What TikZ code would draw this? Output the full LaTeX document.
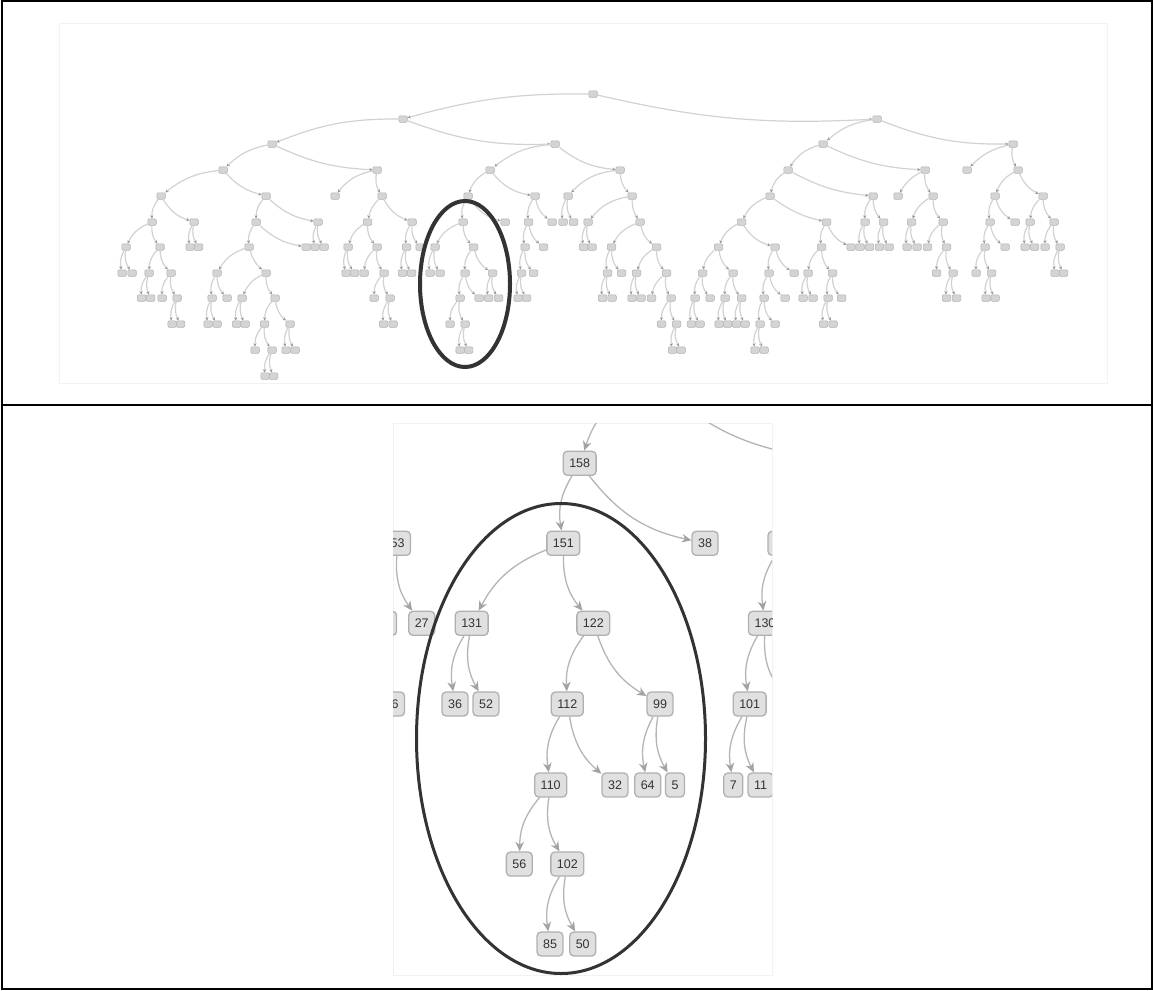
\documentclass[tikz,border=0pt]{standalone}
\usepackage{fontspec}
\setmainfont{Liberation Sans}
\usetikzlibrary{arrows.meta}
\begin{document}
\begin{tikzpicture}[x=1pt,y=1pt,
  tn/.style={rectangle, rounded corners=1.2pt, minimum width=8.5pt, minimum height=6.5pt,
    inner sep=0pt, fill=gray!34, draw=gray!60, line width=0.5pt},
  te/.style={draw=gray!35, line width=1.2pt,
    -{Stealth[length=3.2pt,width=3.2pt,color=gray!80]}},
  bn/.style={rectangle, rounded corners=4pt, minimum height=24pt, minimum width=18pt,
    inner xsep=6pt, inner ysep=0pt, fill=gray!24, draw=gray!62, line width=1.3pt,
    text=black!80, font=\fontsize{12.5}{14}\selectfont},
  be/.style={draw=gray!58, line width=1.3pt,
    -{Stealth[length=9.5pt,width=8.5pt,inset=3pt,color=gray!72]}},
  ring/.style={draw=black!80}]
\useasboundingbox (0,0) rectangle (1153,-990);
\fill[white] (0,0) rectangle (1153,-990);

% frames of the two panels
\draw[line width=2pt] (1.5,-1.5) rectangle (1151.5,-988.5);
\draw[line width=2pt] (1.5,-405) -- (1151.5,-405);
\draw[gray!10, line width=0.8pt] (59,-23) rectangle (1107,-383);
\draw[gray!10, line width=0.8pt] (393,-423) rectangle (772,-975);

% ---------- overview tree ----------
\foreach \n/\x/\y in {
  root/593/94, a/403/119, ap/877/119,
  b/272/144, p/555/144, u/823/144, v/1013/144,
  c/223/170, q/377/170, s/490/170, t/620/170, u1/788/170, u2/925/170, v1/967/170, v2/1018/170,
  d/161/196, g/266/196, q1/335/196, q2/382/196, n158/468/196, s2/535/196, t1/568/196, t2/632/196,
  u11/770/196, u12/873/196, u21/898/196, u22/933/196, v21/995/196, v22/1043/196,
  e/152/222, f/194/222, h/256/222, g2/318/222, q21/367.5/222, q22/412/222, n151/463/222, n38/505/222,
  s21/528.5/222, s22/552/222, t11/563/222, t12/573.5/222, t21/588/222, t22/640/222,
  u111/741.5/222, u112/826.5/222, u121/865/222, u122/883.5/222, u221/911.5/222, u222/943/222,
  v211/990/222, v212/1015/222, v221/1030/222, v222/1054/222,
  e1/126/247, e2/160/247, f1/190/247, f2/198.5/247, i/249/247, h2/306/247, g21/315/247, g22/324/247,
  q211/348/247, q212/377/247, q221/406.5/247, q222/420/247, n131/435/247, n122/473.5/247,
  n130/525/247, s212/543.5/247, t211/583.5/247, t212/592/247, t221/611.5/247, t222/656.5/247,
  u1111/718.5/247, u1112/775/247, u1121/821.5/247, u1122/851/247, u1211/860/247, u1212/869.5/247,
  u1221/879.5/247, u1222/889/247, u2211/907/247, u2212/917/247, u2221/927.5/247, u2222/946.5/247,
  v2111/985/247, v2112/1005/247, v2211/1025/247, v2212/1034.5/247, v2221/1045/247, v2222/1060/247,
  e11/122/273, e12/132/273, e21/149/273, e22/171/273, j/217/273, k/266/273,
  q2111/346/273, q2112/354.5/273, q2121/364/273, q2122/384/273, q2211/402.5/273, q2212/411.5/273,
  n36/430/273, n52/440/273, n112/465/273, n99/492.5/273, n101/521.5/273, n130b/533.5/273,
  t2211/607.5/273, t2212/621.5/273, t2221/636.5/273, t2222/666.5/273, w1/702.5/273, w2/733/273,
  x1/769/273, x2/794/273, y11/808/273, y12/832.5/273, u22221/936.5/273, u22222/953/273,
  v21111/976/273, v21112/991.5/273, v22221/1055/273, v22222/1063.5/273,
  e211/141.5/298, e212/150.5/298, e221/162/298, e222/177/298, j1/212/298, j2/227/298,
  k1/242/298, k2/275/298, q21221/374/298, q21222/390/298, n110/460/298, n32/479/298,
  n64/488.5/298, n5/498.5/298, n7/518/298, n11/526.5/298, t22111/602.5/298, t22112/612/298,
  t22211/632/298, t22212/641/298, t22221/651.5/298, t22222/671/298, w11/695/298, w12/710/298,
  w21/725/298, w22/741.5/298, x11/764/298, x12/785/298, y111/803/298, y112/813/298,
  y121/828/298, y122/841.5/298, u222221/946.5/298, u222222/956.5/298, v211121/986/298, v211122/995/298,
  e2221/172/324, e2222/180.5/324, j11/208/324, j12/217/324, k11/236.5/324, k12/245/324,
  k21/264.5/324, k22/290/324, q212221/383.5/324, q212222/393/324, n56/450/324, n102/465/324,
  t222221/661.5/324, t222222/676.5/324, w111/691.5/324, w112/700/324, w211/719/324, w212/727.5/324,
  w221/736.5/324, w222/745/324, x111/760/324, x112/775/324, y1211/823.5/324, y1212/833/324,
  k211/255/350, k212/272/350, k221/286/350, k222/295/350, n85/460/350, n50/468.5/350,
  t2222221/672.5/350, t2222222/681/350, x1111/755/350, x1112/764/350,
  k2121/265/376, k2122/273.5/376}
  \node[tn] (\n) at (\x,-\y) {};

% long, shallow links curve less
\foreach \p/\c in {root/a, root/ap}
  \draw[te] (\p) to[bend right=8] (\c);
\foreach \p/\c in {a/b, a/p, ap/v, b/q, u/u2, u1/u12, u11/u112}
  \draw[te] (\p) to[bend right=11] (\c);
\foreach \p/\c in {ap/u, b/c, p/s, p/t, g/g2, v/v1, c/g, c/d, u2/u21, i/k, h/h2, q2/q21, t2/t22}
  \draw[te] (\p) to[bend right=16] (\c);
\foreach \p/\c in {
  q/q1, q/q2, s/n158, s/s2, t/t1, t/t2, u/u1, v/v2, u1/u11, u2/u22, v2/v21, v2/v22,
  d/e, d/f, g/h, q2/q22, n158/n151, n158/n38, s2/s21, s2/s22, t1/t11, t1/t12,
  t2/t21, u11/u111, u12/u121, u12/u122, u22/u221, u22/u222,
  v21/v211, v21/v212, v22/v221, v22/v222,
  e/e1, e/e2, f/f1, f/f2, h/i, g2/g21, g2/g22, q21/q211, q21/q212, q22/q221, q22/q222,
  n151/n131, n151/n122, s21/n130, s21/s212, t21/t211, t21/t212, t22/t221, t22/t222,
  u111/u1111, u111/u1112, u112/u1121, u112/u1122, u121/u1211, u121/u1212, u122/u1221, u122/u1222,
  u221/u2211, u221/u2212, u222/u2221, u222/u2222, v211/v2111, v211/v2112, v221/v2211, v221/v2212,
  v222/v2221, v222/v2222,
  e1/e11, e1/e12, e2/e21, e2/e22, i/j, q211/q2111, q211/q2112, q212/q2121, q212/q2122,
  q221/q2211, q221/q2212, n131/n36, n131/n52, n122/n112, n122/n99, n130/n101, n130/n130b,
  t221/t2211, t221/t2212, t222/t2221, t222/t2222, u1111/w1, u1111/w2, u1112/x1, u1112/x2,
  u1121/y11, u1121/y12, u2222/u22221, u2222/u22222, v2111/v21111, v2111/v21112,
  v2222/v22221, v2222/v22222,
  e21/e211, e21/e212, e22/e221, e22/e222, j/j1, j/j2, k/k1, k/k2, q2122/q21221, q2122/q21222,
  n112/n110, n112/n32, n99/n64, n99/n5, n101/n7, n101/n11, t2211/t22111, t2211/t22112,
  t2221/t22211, t2221/t22212, t2222/t22221, t2222/t22222, w1/w11, w1/w12, w2/w21, w2/w22,
  x1/x11, x1/x12, y11/y111, y11/y112, y12/y121, y12/y122, u22222/u222221, u22222/u222222,
  v21112/v211121, v21112/v211122,
  e222/e2221, e222/e2222, j1/j11, j1/j12, k1/k11, k1/k12, k2/k21, k2/k22,
  q21222/q212221, q21222/q212222, n110/n56, n110/n102, t22222/t222221, t22222/t222222,
  w11/w111, w11/w112, w21/w211, w21/w212, w22/w221, w22/w222, x11/x111, x11/x112,
  y121/y1211, y121/y1212,
  k21/k211, k21/k212, k22/k221, k22/k222, n102/n85, n102/n50,
  t222222/t2222221, t222222/t2222222, x111/x1111, x111/x1112,
  k212/k2121, k212/k2122}
  \draw[te] (\p) to[bend right=20] (\c);

% highlighted subtree in the overview
\draw[ring, line width=4pt] (465,-284) ellipse [x radius=45, y radius=83];

% ---------- enlarged subtree ----------
\begin{scope}
\clip (393,-423) rectangle (772,-975);
\foreach \n/\x/\y/\t in {
  z158/579.7/463.3/158, z151/563.3/543.3/151, z38/705/543.3/38,
  z131/471.7/623.3/131, z122/593.3/623.3/122,
  z36/455/704/36, z52/486/704/52, z112/567.3/704/112, z99/660/704/99,
  z110/550.7/785/110, z32/615/785/32, z64/647.7/785/64, z5/675/785/5,
  z56/519.3/864/56, z102/567.3/864/102, z85/550/944/85, z50/582.7/944/50,
  z53/397.5/543.3/53, z27/421.7/623.3/27, zq2212/391.5/704/36,
  z130/765/623.3/130, z101/749.7/704/101, z7/733.3/785/7, z11/760.5/785/11}
  \node[bn] (\n) at (\x,-\y) {\t};
\foreach \n/\x/\y in {zs/650/378, zs2/812/458, zq221/381.5/623.3, zs21/783/543.3, z130b/792/704}
  \node[bn, minimum width=30pt] (\n) at (\x,-\y) {};
\foreach \p/\c in {
  zs/z158, z158/z151, z158/z38, z151/z131, z151/z122, z131/z36, z131/z52,
  z122/z112, z122/z99, z112/z110, z112/z32, z99/z64, z99/z5, z110/z56, z110/z102,
  z102/z85, z102/z50, z53/z27, zs21/z130, z130/z101, z130/z130b, z101/z7, z101/z11}
  \draw[be] (\p) to[bend right=20] (\c);
\draw[be] (zs) to[bend right=14] (zs2);
\end{scope}
\draw[ring, line width=3pt] (561,-738.5) ellipse [x radius=144.5, y radius=235];
\end{tikzpicture}
\end{document}
